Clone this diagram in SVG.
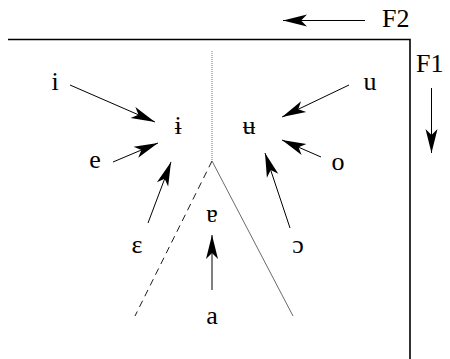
<svg xmlns="http://www.w3.org/2000/svg" width="450" height="359" viewBox="0 0 450 359">
  <style>
    .lbl { font-family: "Liberation Serif", "DejaVu Serif", serif; font-size: 26px; fill: #000; text-anchor: middle; }
    .axis { font-family: "Liberation Serif", "DejaVu Serif", serif; font-size: 26px; fill: #000; }
    .arr { stroke: #000; stroke-width: 1; fill: none; marker-end: url(#head); }
    .frame { stroke: #000; stroke-width: 1.6; fill: none; }
  </style>
  <defs>
    <marker id="head" markerUnits="userSpaceOnUse" markerWidth="26" markerHeight="14" refX="24" refY="7" orient="auto" overflow="visible">
      <path d="M24,7 L0,1 L6,7 L0,13 Z" fill="#000"/>
    </marker>
  </defs>
  <rect width="450" height="359" fill="#fff"/>

  <g id="frame">
    <path class="frame" d="M8,39.5 H410 V359"/>
  </g>

  <g id="connectors">
    <line class="arr" x1="365" y1="20.5" x2="283" y2="20.5"/>
    <line class="arr" x1="431.5" y1="88" x2="431.5" y2="153"/>
    <line class="arr" x1="70" y1="85" x2="155" y2="122"/>
    <line class="arr" x1="349" y1="85" x2="282" y2="117"/>
    <line class="arr" x1="113" y1="162" x2="158" y2="143"/>
    <line class="arr" x1="321" y1="157" x2="282" y2="140"/>
    <line class="arr" x1="148" y1="223" x2="171" y2="162"/>
    <line class="arr" x1="290" y1="228" x2="265" y2="153"/>
    <line class="arr" x1="212" y1="290" x2="212" y2="235"/>
    <line x1="212" y1="51" x2="212" y2="161" stroke="#555" stroke-width="0.8" stroke-dasharray="1 1"/>
    <line x1="212" y1="161" x2="135" y2="316" stroke="#000" stroke-width="0.9" stroke-dasharray="7 5"/>
    <line x1="212" y1="161" x2="293" y2="316" stroke="#444" stroke-width="0.8"/>
  </g>

  <g id="F2"><text class="axis" x="382" y="27">F2</text></g>
  <g id="F1"><text class="axis" x="416" y="72">F1</text></g>

  <g id="v-i"><text class="lbl" x="55" y="90">i</text></g>
  <g id="v-u"><text class="lbl" x="370" y="90">u</text></g>
  <g id="v-ibar"><text class="lbl" x="178" y="134">ɨ</text></g>
  <g id="v-ubar"><text class="lbl" x="249" y="134">ʉ</text></g>
  <g id="v-e"><text class="lbl" x="95" y="168">e</text></g>
  <g id="v-o"><text class="lbl" x="338" y="170">o</text></g>
  <g id="v-open-e"><text class="lbl" x="137" y="253">ɛ</text></g>
  <g id="v-open-o"><text class="lbl" x="298" y="253">ɔ</text></g>
  <g id="v-turned-a"><text class="lbl" x="212" y="222">ɐ</text></g>
  <g id="v-a"><text class="lbl" x="212" y="324">a</text></g>
</svg>
